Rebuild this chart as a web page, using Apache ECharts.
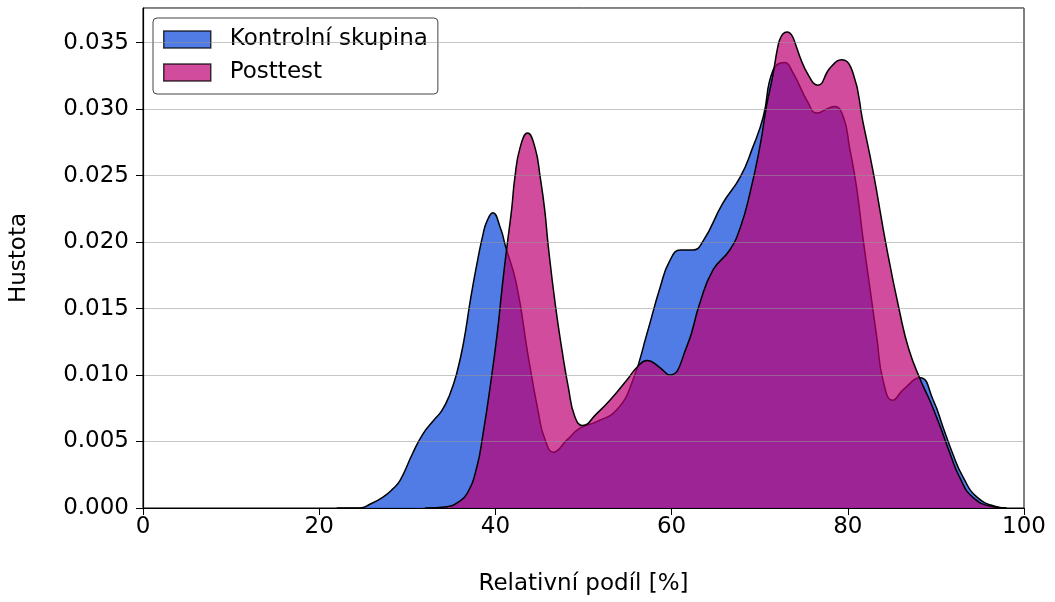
<!DOCTYPE html>
<html>
<head>
<meta charset="utf-8">
<script src="https://cdn.jsdelivr.net/npm/echarts@6/dist/echarts.min.js"></script>
<style>
  html, body { margin: 0; padding: 0; background: #fff; }
  #chart { width: 1055px; height: 602px; }
</style>
</head>
<body>
<div id="chart"></div>
<script>
// Kernel density estimate of the control group (x = relative share in %, y = density)
const kontrolX = [22, 24.6, 25.8, 27.2, 28.3, 29.2, 30.6, 31.8, 33.0, 33.9, 34.8, 35.6, 36.4, 37.2, 38.0, 38.6, 39.0, 39.7, 40.6, 41.1, 42.4, 43.7, 44.9, 45.6, 46.6, 48.1, 49.6, 51.5, 53.8, 55.6, 57.2, 58.7, 59.8, 61.0, 62.4, 63.6, 65.8, 67.8, 69.2, 70.4, 71.5, 72.8, 73.8, 75.4, 76.5, 77.6, 78.5, 79.5, 80.2, 81.0, 81.7, 82.5, 83.3, 84.0, 85.1, 86.3, 88.2, 89.7, 90.8, 91.9, 93.1, 94.7, 96.9, 98];
const kontrolY = [0, 0.0000, 0.0003, 0.0008, 0.0014, 0.0021, 0.0041, 0.0056, 0.0066, 0.0073, 0.0085, 0.0101, 0.0125, 0.0158, 0.0187, 0.0206, 0.0215, 0.0222, 0.0210, 0.0198, 0.0168, 0.0115, 0.0071, 0.0052, 0.0042, 0.0051, 0.0060, 0.0065, 0.0074, 0.0096, 0.0131, 0.0166, 0.0186, 0.0194, 0.0194, 0.0201, 0.0229, 0.0249, 0.0271, 0.0294, 0.0329, 0.0335, 0.0327, 0.0306, 0.0297, 0.0300, 0.0302, 0.0294, 0.0271, 0.0241, 0.0204, 0.0166, 0.0128, 0.0096, 0.0081, 0.0089, 0.0098, 0.0081, 0.0061, 0.0041, 0.0023, 0.0008, 0.0001, 0];

// Kernel density estimate of the post-test group
const posttestX = [32, 34.5, 35.7, 36.8, 37.9, 38.6, 39.4, 40.2, 40.8, 41.3, 41.85, 42.2, 42.8, 43.65, 44.5, 45.1, 45.6, 46.0, 46.8, 47.6, 48.3, 49.0, 49.9, 51.5, 53.0, 54.9, 56.1, 57.2, 58.6, 59.8, 61.7, 63.2, 64.7, 66.6, 67.8, 68.9, 70.0, 71.2, 73.1, 75.4, 76.6, 78.0, 79.3, 80.6, 81.7, 82.9, 84.4, 85.9, 86.9, 88.2, 89.3, 90.5, 91.6, 92.7, 94.2, 96.5, 98];
const posttestY = [0, 0.0001, 0.0004, 0.0011, 0.0031, 0.0056, 0.0091, 0.0131, 0.0168, 0.0196, 0.0225, 0.0248, 0.0271, 0.0282, 0.0271, 0.0248, 0.0224, 0.0197, 0.0153, 0.0117, 0.0090, 0.0069, 0.0062, 0.0071, 0.0081, 0.0096, 0.0106, 0.0111, 0.0106, 0.0100, 0.0121, 0.0154, 0.0179, 0.0194, 0.0211, 0.0237, 0.0271, 0.0316, 0.0358, 0.0327, 0.0318, 0.0331, 0.0337, 0.0327, 0.0291, 0.0252, 0.0196, 0.0147, 0.0120, 0.0097, 0.0081, 0.0061, 0.0041, 0.0023, 0.0008, 0.0001, 0];

const xTicks = [0, 20, 40, 60, 80, 100];
const yTickStep = 0.005;

const seriesNames = ['Kontrolní skupina', 'Posttest'];
const fillColors = ['rgba(50,100,225,0.85)', 'rgba(190,0,115,0.7)'];

const zip = (xs, ys) => xs.map((x, i) => [x, ys[i]]);

const font = 'DejaVu Sans';
const fs = 23;
const chart = echarts.init(document.getElementById('chart'), null, { renderer: 'canvas' });

chart.setOption({
  animation: false,
  backgroundColor: '#fff',
  grid: {
    left: 143, right: 31, top: 8, bottom: 94,
    show: true, borderColor: '#000', borderWidth: 1, backgroundColor: 'transparent'
  },
  legend: {
    left: 153, top: 18,
    orient: 'vertical',
    padding: [10, 10, 10, 10],
    itemGap: 10,
    itemWidth: 47, itemHeight: 17,
    icon: 'rect',
    borderColor: '#444', borderWidth: 1, borderRadius: 4,
    backgroundColor: 'rgba(255,255,255,0.85)',
    textStyle: { fontFamily: font, fontSize: fs, color: '#000', padding: [0, 0, 0, 14] },
    data: seriesNames.map((n, i) => ({
      name: n,
      itemStyle: { color: fillColors[i], borderColor: 'rgba(0,0,0,0.75)', borderWidth: 1.5 }
    }))
  },
  xAxis: {
    type: 'value',
    min: xTicks[0], max: xTicks[xTicks.length - 1], interval: 20,
    z: 10,
    name: 'Relativní podíl [%]',
    nameLocation: 'middle', nameGap: 65,
    nameTextStyle: { fontFamily: font, fontSize: fs, color: '#000' },
    axisLine: { show: true, onZero: false, lineStyle: { color: '#000', width: 1.2 } },
    axisTick: { show: true, length: 7, lineStyle: { color: '#000', width: 1 } },
    axisLabel: { fontFamily: font, fontSize: fs, color: '#000', margin: 8 },
    splitLine: { show: false }
  },
  yAxis: {
    type: 'value',
    min: 0, max: 0.0376, interval: yTickStep,
    z: 10,
    name: 'Hustota',
    nameLocation: 'middle', nameGap: 112, nameRotate: 90,
    nameTextStyle: { fontFamily: font, fontSize: fs, color: '#000' },
    axisLine: { show: true, lineStyle: { color: '#000', width: 1.2 } },
    axisTick: { show: true, length: 7, lineStyle: { color: '#000', width: 1 } },
    axisLabel: {
      fontFamily: font, fontSize: fs, color: '#000', margin: 14,
      showMaxLabel: false,
      formatter: v => v.toFixed(3)
    },
    splitLine: { show: true, lineStyle: { color: 'rgba(150,150,150,0.55)', width: 1 } }
  },
  series: [
    {
      name: seriesNames[0],
      type: 'line',
      data: zip(kontrolX, kontrolY),
      smooth: 0.5,
      showSymbol: false,
      color: fillColors[0],
      lineStyle: { color: '#000', width: 1.5 },
      areaStyle: { color: fillColors[0], opacity: 1 },
      z: 2
    },
    {
      name: seriesNames[1],
      type: 'line',
      data: zip(posttestX, posttestY),
      smooth: 0.5,
      showSymbol: false,
      color: fillColors[1],
      lineStyle: { color: '#000', width: 1.5 },
      areaStyle: { color: fillColors[1], opacity: 1 },
      z: 3
    }
  ]
});
</script>
</body>
</html>
